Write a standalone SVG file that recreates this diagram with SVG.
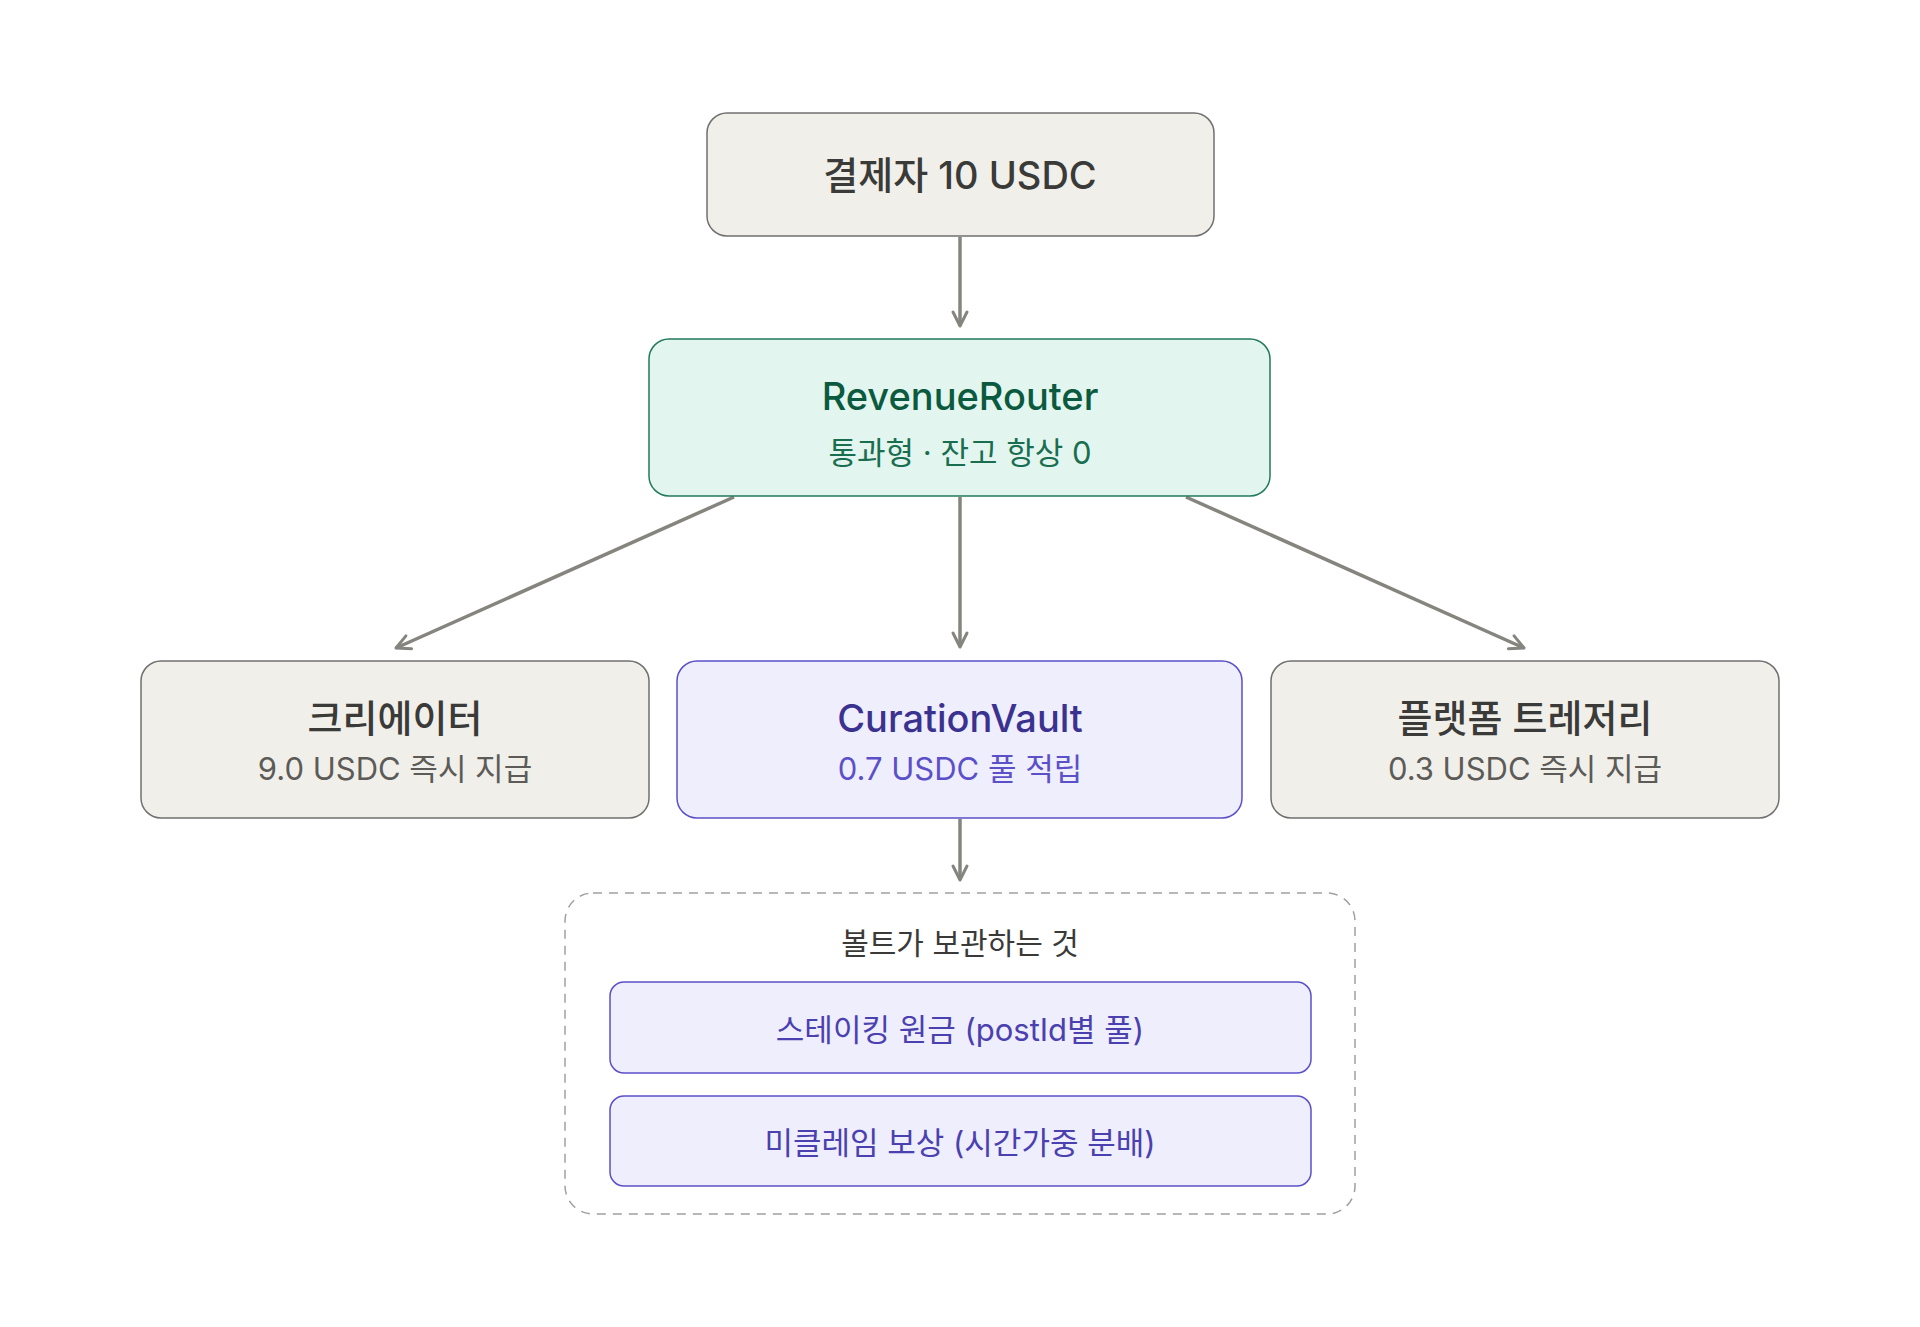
<svg xmlns="http://www.w3.org/2000/svg" width="1920" height="1327" viewBox="0 0 1920 1327">
<defs>
<marker id="ah" viewBox="0 0 20 20" refX="17" refY="10" markerWidth="20" markerHeight="20" markerUnits="userSpaceOnUse" orient="auto"><path d="M3,3 L17,10 L3,17" fill="none" stroke="#85847e" stroke-width="3" stroke-linecap="round" stroke-linejoin="round"/></marker>
</defs>
<style>
text{font-family:Inter,"Noto Sans CJK KR",sans-serif;text-anchor:middle;dominant-baseline:central}
.g rect{fill:#f0efea;stroke:#707070;stroke-width:1.5}
.gr rect{fill:#e2f5ee;stroke:#237a5c;stroke-width:1.5}
.p rect{fill:#efeefd;stroke:#5b50c8;stroke-width:1.5}
.t{font-size:38px;font-weight:500}
.s{font-size:31px}
.c line{stroke:#85847e;stroke-width:3.5;marker-end:url(#ah)}
</style>
<rect width="1920" height="1327" fill="#fff"/>
<g class="c">
<line x1="960" y1="237" x2="960" y2="326"/>
<line x1="960" y1="497" x2="960" y2="647"/>
<line x1="734" y1="497" x2="396" y2="648"/>
<line x1="1186" y1="497" x2="1524" y2="648"/>
<line x1="960" y1="819" x2="960" y2="880"/>
</g>
<g id="payer" class="g"><rect x="707" y="113" width="507" height="123" rx="20"/><text class="t" x="960" y="175" fill="#3a3a38">결제자 10 USDC</text></g>
<g id="router" class="gr"><rect x="649" y="339" width="621" height="157" rx="20"/><text class="t" x="960" y="396" fill="#0b5a40">RevenueRouter</text><text class="s" x="960" y="452" fill="#1a6e50">통과형 · 잔고 항상 0</text></g>
<g id="creator" class="g"><rect x="141" y="661" width="508" height="157" rx="20"/><text class="t" x="395" y="718" fill="#3a3a38">크리에이터</text><text class="s" x="395" y="768" fill="#5c5b57">9.0 USDC 즉시 지급</text></g>
<g id="vault" class="p"><rect x="677" y="661" width="565" height="157" rx="20"/><text class="t" x="960" y="718" fill="#3b3290">CurationVault</text><text class="s" x="960" y="768" fill="#5b50c8">0.7 USDC 풀 적립</text></g>
<g id="treasury" class="g"><rect x="1271" y="661" width="508" height="157" rx="20"/><text class="t" x="1525" y="718" fill="#3a3a38">플랫폼 트레저리</text><text class="s" x="1525" y="768" fill="#5c5b57">0.3 USDC 즉시 지급</text></g>
<g id="holdings"><rect x="565" y="893" width="790" height="321" rx="28" fill="none" stroke="#a0a0a0" stroke-width="1.5" stroke-dasharray="9 7"/><text x="960" y="943" font-size="30" fill="#3a3a38">볼트가 보관하는 것</text></g>
<g id="stake" class="p"><rect x="610" y="982" width="701" height="91" rx="14"/><text class="s" x="960" y="1029" fill="#4a40b0">스테이킹 원금 (postId별 풀)</text></g>
<g id="unclaimed" class="p"><rect x="610" y="1096" width="701" height="90" rx="14"/><text class="s" x="960" y="1142" fill="#4a40b0">미클레임 보상 (시간가중 분배)</text></g>
</svg>
